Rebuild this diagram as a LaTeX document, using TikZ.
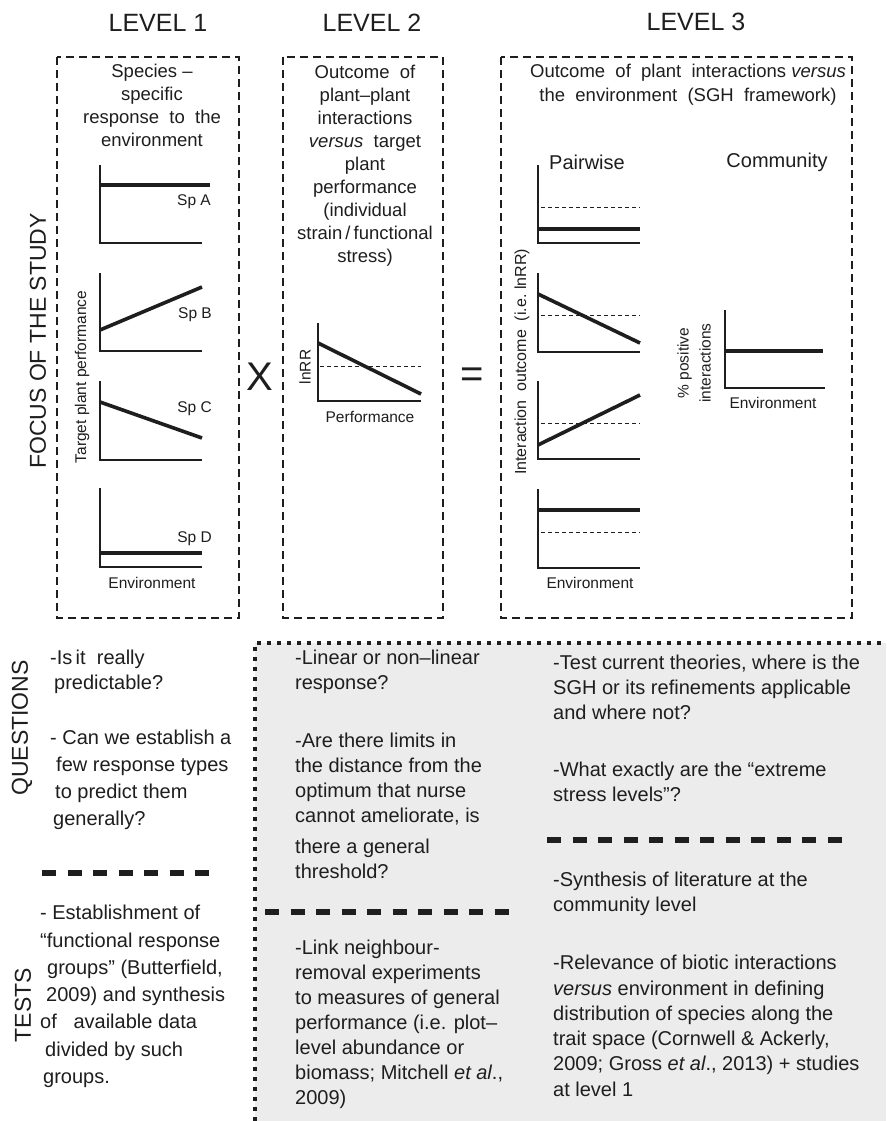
\documentclass[tikz,border=0pt]{standalone}
\usepackage{fontspec}
\setmainfont{Liberation Sans}
\definecolor{ink}{HTML}{1E1E1E}
\definecolor{panel}{HTML}{ECECEC}
\begin{document}
\begin{tikzpicture}[x=1pt,y=-1pt,
  every node/.style={text=ink,inner sep=0pt},
  leveltxt/.style={font=\fontsize{25}{30}\selectfont},
  bigrot/.style={font=\fontsize{23}{28}\selectfont,rotate=90},
  titletxt/.style={font=\fontsize{18.5}{23}\selectfont,align=center,anchor=north},
  smalltxt/.style={font=\fontsize{15.5}{18}\selectfont},
  headtxt/.style={font=\fontsize{20}{24}\selectfont},
  bodytxt/.style={font=\fontsize{20}{25}\selectfont,align=left,anchor=north west},
  frame/.style={draw=ink,line width=1.8pt,dash pattern=on 8pt off 5pt},
  axisline/.style={draw=ink,line width=1.3pt},
  curveline/.style={draw=ink,line width=3.6pt},
  refline/.style={draw=ink,line width=1pt,dash pattern=on 4pt off 3pt},
  sepline/.style={draw=ink,line width=5.5pt,dash pattern=on 14pt off 11.5pt},
  dotline/.style={draw=ink,line width=4pt,dash pattern=on 4pt off 6pt}]
\useasboundingbox (0,0) rectangle (886,1121);
\fill[white] (0,0) rectangle (886,1121);

% grey panel
\fill[panel] (255,643) rectangle (886,1121);
\draw[dotline] (255,1121) -- (255,643) -- (886,643);

% level headings
\node[leveltxt] (lv1) at (158,23) {LEVEL 1};
\node[leveltxt] (lv2) at (372,23) {LEVEL 2};
\node[leveltxt] (lv3) at (696,22) {LEVEL 3};

% frames
\draw[frame] (57,57) rectangle (239,618);
\draw[frame] (283,57) rectangle (443,618);
\draw[frame] (501,57) rectangle (852,618);

% side labels
\node[bigrot] (focus) at (38,341) {FOCUS OF THE STUDY};
\node[bigrot] (quest) at (22,728) {QUESTIONS};
\node[bigrot] (tests) at (23,1005) {TESTS};

% level 1
\node[titletxt] (t1) at (152,64) {Species –\\specific\\response\ \ to\ \ the\\environment};
\draw[axisline] (100,165) -- (100,243) -- (202,243);
\draw[curveline] (100,185) -- (210,185);
\node[smalltxt,anchor=east] (spa) at (211,202) {Sp A};
\draw[axisline] (100,273) -- (100,351) -- (202,351);
\draw[curveline] (100,330) -- (202,287);
\node[smalltxt,anchor=east] (spb) at (212,315) {Sp B};
\draw[axisline] (100,381) -- (100,460) -- (202,460);
\draw[curveline] (100,402) -- (202,438);
\node[smalltxt,anchor=east] (spc) at (212,409) {Sp C};
\draw[axisline] (100,488) -- (100,567) -- (202,567);
\draw[curveline] (100,553) -- (202,553);
\node[smalltxt,anchor=east] (spd) at (212,539) {Sp D};
\node[smalltxt] (env1) at (152,583) {Environment};
\node[smalltxt,rotate=90] (tpp) at (82,377) {Target plant performance};

% operator signs
\node[font=\fontsize{40}{44}\selectfont] (times) at (260,377) {X};
\node[font=\fontsize{40}{44}\selectfont] (equals) at (472,378) {=};

% level 2
\node[titletxt] (t2) at (365,65) {Outcome\ \ of\\plant–plant\\interactions\\\textit{versus}\ \ target\\plant\\performance\\(individual\\strain\,/\,functional\\stress)};
\draw[axisline] (318,323) -- (318,401) -- (421,401);
\draw[refline] (320,366) -- (421,366);
\draw[curveline] (318,343) -- (421,394);
\node[smalltxt,rotate=90] (lnrr) at (305,367) {lnRR};
\node[smalltxt] (perf) at (370,417) {Performance};

% level 3
\node[titletxt,font=\fontsize{18.5}{24}\selectfont] (t3) at (688,64) {Outcome\ \ of\ \ plant\ \ interactions \textit{versus}\\the\ \ environment\ \ (SGH\ \ framework)};
\node[headtxt] (pair) at (587,162) {Pairwise};
\node[headtxt] (comm) at (777,162) {Community};
\draw[axisline] (538,165) -- (538,243) -- (640,243);
\draw[refline] (541,207) -- (640,207);
\draw[curveline] (538,229) -- (640,229);
\draw[axisline] (538,273) -- (538,352) -- (640,352);
\draw[refline] (541,315) -- (640,315);
\draw[curveline] (538,294) -- (640,343);
\draw[axisline] (538,381) -- (538,459) -- (640,459);
\draw[refline] (541,423) -- (640,423);
\draw[curveline] (538,445) -- (640,395);
\draw[axisline] (538,489) -- (538,568) -- (640,568);
\draw[refline] (541,532) -- (640,532);
\draw[curveline] (538,510) -- (640,510);
\node[smalltxt] (env3) at (590,583) {Environment};
\node[smalltxt,rotate=90,font=\fontsize{16}{18}\selectfont] (iout) at (522,362) {Interaction\ \ outcome\ \ (i.e.\ lnRR)};
\draw[axisline] (725,310) -- (725,388) -- (825,388);
\draw[curveline] (725,351) -- (823,351);
\node[smalltxt] (envc) at (773,403) {Environment};
\node[smalltxt,rotate=90,align=center,font=\fontsize{15.5}{22}\selectfont] (ppos) at (694,363) {\% positive\\interactions};

% questions / tests, column 1
\node[bodytxt] (q1a) at (50,650) {-Is\,it\ \ really\\\hspace*{4pt}predictable?};
\node[bodytxt,font=\fontsize{20}{27}\selectfont] (q1b) at (50,730) {- Can we establish a\\\hspace*{6pt}few response types\\\hspace*{5pt}to predict them\\\hspace*{3pt}generally?};
\draw[sepline] (42,873) -- (210,873);
\node[bodytxt,font=\fontsize{20}{27.3}\selectfont] (t1a) at (40,905) {- Establishment of\\“functional response\\\hspace*{7pt}groups” (Butterfield,\\\hspace*{6pt}2009) and synthesis\\of\ \ \ available data\\\hspace*{5pt}divided by such\\\hspace*{3pt}groups.};

% column 2
\node[bodytxt] (q2a) at (295,650) {-Linear or non–linear\\response?};
\node[bodytxt] (q2b) at (295,733) {-Are there limits in\\the distance from the\\optimum that nurse\\cannot ameliorate, is\\[6pt]there a general\\threshold?};
\draw[sepline] (265,912) -- (510,912);
\node[bodytxt] (t2a) at (295,940) {-Link neighbour-\\removal experiments\\to measures of general\\performance (i.e. plot–\\level abundance or\\biomass; Mitchell \textit{et al}.,\\2009)};

% column 3
\node[bodytxt] (q3a) at (553,655) {-Test current theories, where is the\\SGH or its refinements applicable\\and where not?};
\node[bodytxt] (q3b) at (553,762) {-What exactly are the “extreme\\stress levels”?};
\draw[sepline] (547,840) -- (843,840);
\node[bodytxt] (t3a) at (553,872) {-Synthesis of literature at the\\community level};
\node[bodytxt,font=\fontsize{20}{25.3}\selectfont] (t3b) at (553,955) {-Relevance of biotic interactions\\\textit{versus} environment in defining\\distribution of species along the\\trait space (Cornwell \& Ackerly,\\2009; Gross \textit{et al}., 2013) + studies\\at level 1};
\end{tikzpicture}
\end{document}
